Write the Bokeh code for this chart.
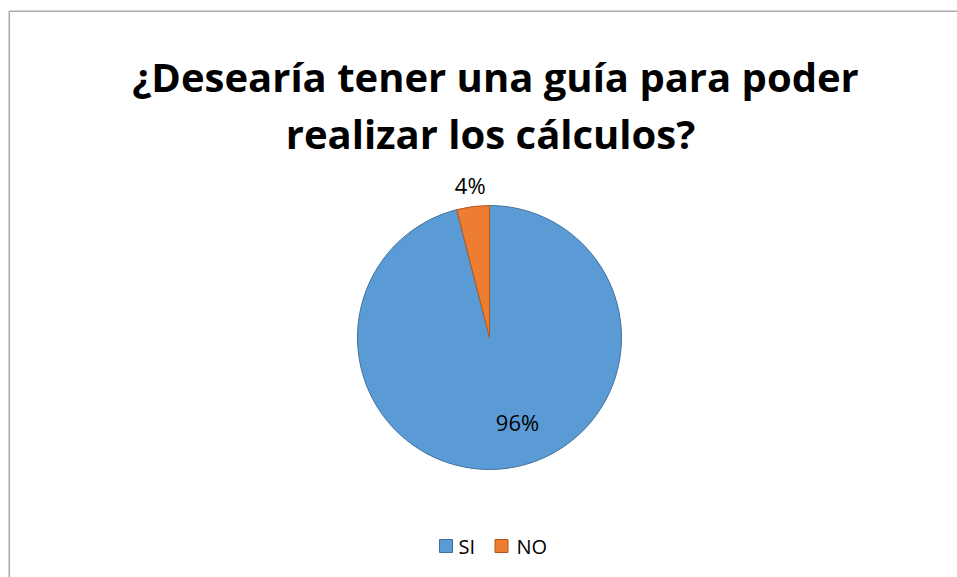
import math
from bokeh.plotting import figure
from bokeh.models import Range1d, ColumnDataSource
from bokeh.core.properties import value
from bokeh.embed import file_html
from bokeh.resources import INLINE

# ---- data ----
categories = ["SI", "NO"]
percentages = [96, 4]
colors = ["#5B9BD5", "#ED7D31"]
edge_colors = ["#41719C", "#AE5A21"]
title_lines = ["¿Desearía tener una guía para poder", "realizar los cálculos?"]

# ---- layout (page pixels mapped to data units 1:1) ----
W, H = 957, 577
p = figure(width=W, height=H, output_backend="svg", toolbar_location=None,
           x_range=Range1d(0, W), y_range=Range1d(0, H),
           min_border=0, outline_line_color=None)
p.axis.visible = False
p.grid.visible = False
p.background_fill_color = "white"
p.border_fill_color = "white"

def py(page_y):
    return H - page_y

FONT = "Open Sans"

# chart border (left and top visible)
p.line([8.8, 8.8, 960], [py(600), py(10.8), py(10.8)], line_color="#ABABAB", line_width=1.6)

# title
p.text(x=[495, 490], y=[py(76), py(133)], text=title_lines,
       text_font=value(FONT), text_font_style="bold", text_font_size="40px",
       text_align="center", text_baseline="alphabetic", text_color="#000000")

# pie
cx, cy, r = 489, py(337), 132
total = sum(percentages)
starts, ends = [], []
a = math.pi / 2
for v in percentages:
    starts.append(a - 2 * math.pi * v / total)
    ends.append(a)
    a -= 2 * math.pi * v / total
src = ColumnDataSource(dict(cat=categories, start=starts, end=ends,
                            color=colors, edge=edge_colors))
p.wedge(x=cx, y=cy, radius=r, start_angle="start", end_angle="end",
        fill_color="color", line_color="edge", line_width=1, source=src)

# data labels
label_offsets = [(28, -84), None]
lx, ly, lt = [], [], []
for i, v in enumerate(percentages):
    mid = (starts[i] + ends[i]) / 2
    if label_offsets[i] is None:
        dx, dy = 1.165 * r * math.cos(mid), 1.165 * r * math.sin(mid)
    else:
        dx, dy = label_offsets[i]
    lx.append(cx + dx)
    ly.append(cy + dy)
    lt.append(f"{round(100 * v / total)}%")
p.text(x=lx, y=ly, text=lt, text_font=value(FONT), text_font_size="22px",
       text_align="center", text_baseline="middle", text_color="#000000")

# legend
leg_sq_x = [445.5, 501]
leg_tx_x = [458, 516]
leg_y = py(545.5)
p.rect(x=leg_sq_x, y=[leg_y] * 2, width=13, height=13,
       fill_color=colors, line_color=edge_colors, line_width=1)
p.text(x=leg_tx_x, y=[leg_y] * 2, text=categories, text_font=value(FONT),
       text_font_size="20px", text_align="left", text_baseline="middle",
       text_color="#000000")

open("out.html", "w").write(file_html(p, INLINE))
